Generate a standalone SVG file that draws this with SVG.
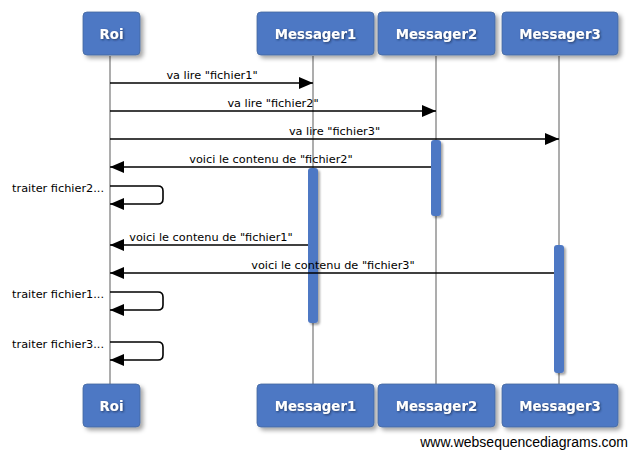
<svg xmlns="http://www.w3.org/2000/svg" width="629" height="450" viewBox="0 0 629 450">
<defs>
<style>
.box{fill:#4e78c4;stroke:#44689f;stroke-width:0.8;filter:url(#sh)}
.act{fill:#4e78c4;filter:url(#sh2)}
.bl{font-family:"DejaVu Sans",Verdana,sans-serif;font-weight:bold;font-size:13.3px;fill:#fff;text-anchor:middle;filter:url(#tsh)}
.life{stroke:#8a8a8a;stroke-width:1.4;fill:none}
.msg{stroke:#000;stroke-width:1.6;fill:none;marker-end:url(#ah)}
.lbl{font-family:"DejaVu Sans",Verdana,sans-serif;font-size:11.3px;fill:#000;text-anchor:middle}
.sl{font-family:"DejaVu Sans",Verdana,sans-serif;font-size:11.3px;fill:#000;text-anchor:end}
</style>
<filter id="sh" x="-20%" y="-20%" width="150%" height="160%"><feDropShadow dx="3" dy="3" stdDeviation="2" flood-color="#000" flood-opacity="0.35"/></filter>
<filter id="sh2" x="-50%" y="-10%" width="250%" height="130%"><feDropShadow dx="2" dy="2" stdDeviation="1.2" flood-color="#000" flood-opacity="0.35"/></filter>
<filter id="tsh" x="-20%" y="-40%" width="140%" height="180%"><feDropShadow dx="1" dy="1" stdDeviation="1" flood-color="#1a2a50" flood-opacity="0.8"/></filter>
<marker id="ah" markerUnits="userSpaceOnUse" markerWidth="15" markerHeight="13" refX="14" refY="6" orient="auto"><path d="M0,0 L14,6 L0,12 Z" fill="#000"/></marker>
</defs>
<g id="lifelines">
<line class="life" x1="110" y1="56" x2="110" y2="384"/>
<line class="life" x1="313" y1="56" x2="313" y2="384"/>
<line class="life" x1="436" y1="56" x2="436" y2="384"/>
<line class="life" x1="559" y1="56" x2="559" y2="384"/>
</g>
<g id="activations">
<rect class="act" x="308" y="168" width="10" height="155" rx="3"/>
<rect class="act" x="431" y="140" width="10" height="76" rx="3"/>
<rect class="act" x="554" y="245" width="10" height="128" rx="3"/>
</g>
<g id="Roi">
<rect class="box" x="83" y="12" width="57" height="43" rx="4"/>
<text class="bl" x="111.5" y="38.5">Roi</text>
</g>
<g id="Messager1">
<rect class="box" x="257" y="12" width="117" height="43" rx="4"/>
<text class="bl" x="315.5" y="38.5">Messager1</text>
</g>
<g id="Messager2">
<rect class="box" x="378" y="12" width="117" height="43" rx="4"/>
<text class="bl" x="436.5" y="38.5">Messager2</text>
</g>
<g id="Messager3">
<rect class="box" x="502" y="12" width="116" height="43" rx="4"/>
<text class="bl" x="560" y="38.5">Messager3</text>
</g>
<g id="Roi-bottom">
<rect class="box" x="83" y="384" width="57" height="43" rx="4"/>
<text class="bl" x="111.5" y="410.5">Roi</text>
</g>
<g id="Messager1-bottom">
<rect class="box" x="257" y="384" width="117" height="43" rx="4"/>
<text class="bl" x="315.5" y="410.5">Messager1</text>
</g>
<g id="Messager2-bottom">
<rect class="box" x="378" y="384" width="117" height="43" rx="4"/>
<text class="bl" x="436.5" y="410.5">Messager2</text>
</g>
<g id="Messager3-bottom">
<rect class="box" x="502" y="384" width="116" height="43" rx="4"/>
<text class="bl" x="560" y="410.5">Messager3</text>
</g>
<g id="connectors">
<line class="msg" x1="110" y1="83" x2="313" y2="83"/>
<text class="lbl" x="212" y="79">va lire "fichier1"</text>
<line class="msg" x1="110" y1="111" x2="436" y2="111"/>
<text class="lbl" x="273" y="107">va lire "fichier2"</text>
<line class="msg" x1="110" y1="139" x2="559" y2="139"/>
<text class="lbl" x="334.5" y="135">va lire "fichier3"</text>
<line class="msg" x1="431" y1="167" x2="110" y2="167"/>
<text class="lbl" x="271" y="163">voici le contenu de "fichier2"</text>
<path class="msg" d="M110,186 H158 Q163,186 163,191 V199 Q163,204 158,204 H110"/>
<text class="sl" x="104" y="192">traiter fichier2...</text>
<line class="msg" x1="308" y1="245" x2="110" y2="245"/>
<text class="lbl" x="211" y="241">voici le contenu de "fichier1"</text>
<line class="msg" x1="554" y1="273" x2="110" y2="273"/>
<text class="lbl" x="333" y="269">voici le contenu de "fichier3"</text>
<path class="msg" d="M110,292 H158 Q163,292 163,297 V305 Q163,310 158,310 H110"/>
<text class="sl" x="104" y="298">traiter fichier1...</text>
<path class="msg" d="M110,342 H158 Q163,342 163,347 V355 Q163,360 158,360 H110"/>
<text class="sl" x="104" y="348">traiter fichier3...</text>
</g>
<text x="628" y="447" font-family="Liberation Sans, Arial, sans-serif" font-size="14" text-anchor="end" fill="#000">www.websequencediagrams.com</text>
</svg>
